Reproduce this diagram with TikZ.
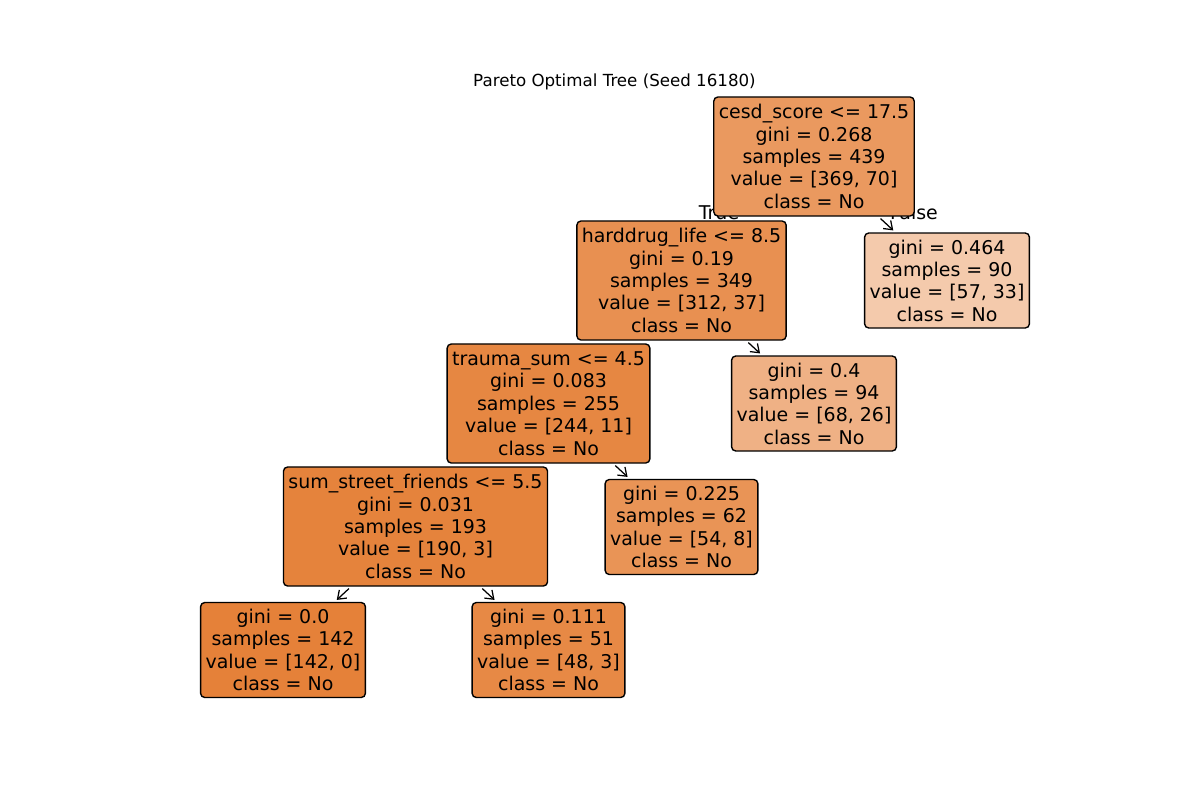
\documentclass[tikz,border=0pt]{standalone}
\usepackage{fontspec}
\setmainfont{DejaVu Sans}
\usetikzlibrary{arrows.meta,positioning}

% node fill colours (class No, shaded by purity)
\definecolor{cRoot}{RGB}{234,153,95}
\definecolor{cHard}{RGB}{232,144,81}
\definecolor{cRootF}{RGB}{244,202,172}
\definecolor{cTrauma}{RGB}{230,135,66}
\definecolor{cHardF}{RGB}{239,177,133}
\definecolor{cStreet}{RGB}{229,131,60}
\definecolor{cTraumaF}{RGB}{233,148,86}
\definecolor{cStreetT}{RGB}{229,129,57}
\definecolor{cStreetF}{RGB}{231,137,69}

\begin{document}
\begin{tikzpicture}[x=0.72pt,y=-0.72pt,
	every node/.style={font=\fontsize{13.65}{16.1}\selectfont},
	split/.style={rectangle,draw,line width=1pt,rounded corners=3pt,align=center,inner xsep=3.6pt,minimum height=85.7pt},
	leaf/.style={split,minimum height=68.4pt},
	arr/.style={-{Straight Barb[length=5.5pt,width=8pt]},line width=0.9pt,shorten <=2pt,shorten >=2pt}]
	\useasboundingbox (0,0) rectangle (1200,800);

	\node[font=\fontsize{12}{14}\selectfont] (title) at (614.5,82) {Pareto Optimal Tree (Seed 16180)};
	% branch labels, drawn first so the boxes cover them
	\node[anchor=base] (lblT) at (719,219) {True};
	\node[anchor=base] (lblF) at (914,219) {False};

	\begin{scope}
		\node[split,fill=cRoot] (root) at (814,156.5) {cesd\_score <= 17.5\\gini = 0.268\\samples = 439\\value = [369, 70]\\class = No};
		\node[split,fill=cHard] (hard) at (681.5,280.5) {harddrug\_life <= 8.5\\gini = 0.19\\samples = 349\\value = [312, 37]\\class = No};
		\node[leaf,fill=cRootF] (rootF) at (947,280.5) {gini = 0.464\\samples = 90\\value = [57, 33]\\class = No};
		\node[split,fill=cTrauma] (trauma) at (548.5,403.5) {trauma\_sum <= 4.5\\gini = 0.083\\samples = 255\\value = [244, 11]\\class = No};
		\node[leaf,fill=cHardF] (hardF) at (814,403.5) {gini = 0.4\\samples = 94\\value = [68, 26]\\class = No};
		\node[split,fill=cStreet] (street) at (415.5,526.5) {sum\_street\_friends <= 5.5\\gini = 0.031\\samples = 193\\value = [190, 3]\\class = No};
		\node[leaf,fill=cTraumaF] (traumaF) at (681.5,527) {gini = 0.225\\samples = 62\\value = [54, 8]\\class = No};
		\node[leaf,fill=cStreetT] (streetT) at (283,650) {gini = 0.0\\samples = 142\\value = [142, 0]\\class = No};
		\node[leaf,fill=cStreetF] (streetF) at (548.5,650) {gini = 0.111\\samples = 51\\value = [48, 3]\\class = No};
	\end{scope}

	\begin{scope}
	\draw[arr] (root) -- (rootF);
	\draw[arr] (hard) -- (hardF);
	\draw[arr] (trauma) -- (traumaF);
	\draw[arr] (street) -- (streetT);
	\draw[arr] (street) -- (streetF);
	\end{scope}
\end{tikzpicture}
\end{document}
